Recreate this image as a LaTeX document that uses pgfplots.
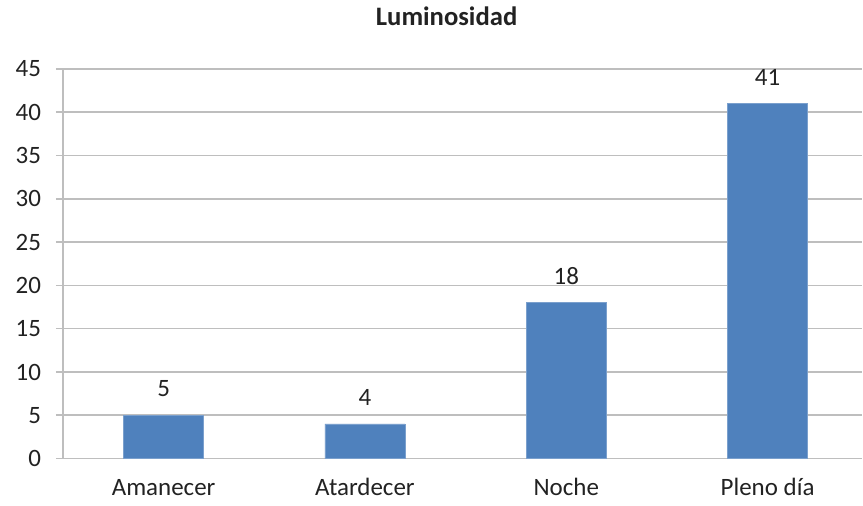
\documentclass[border=0pt]{standalone}
\usepackage{pgfplots}
\pgfplotsset{compat=1.18}
\usepackage{fontspec}
\setmainfont{Carlito}
\definecolor{barc}{HTML}{4F81BD}
\definecolor{gridc}{HTML}{BEBEBE}
\definecolor{txt}{HTML}{222222}

\begin{document}
\begin{tikzpicture}
\begin{axis}[
  name=ax,
  scale only axis,
  width=600pt, height=292.5pt,
  xmin=-0.5, xmax=3.47,
  ymin=0, ymax=45,
  ytick={0,5,...,45},
  xtick={0,1,2,3},
  xticklabels={Amanecer, Atardecer, Noche, Pleno día},
  extra x ticks={-0.5,0.5,1.5,2.5},
  extra x tick labels={},
  extra x tick style={grid=none, major tick length=5.25pt, tick align=outside, tick style={gridc, line width=1.2pt}},
  x tick style={draw=none},
  y tick style={gridc, line width=1.2pt},
  major tick length=5.25pt,
  tick align=outside,
  ymajorgrids, grid style={gridc, line width=1.2pt},
  axis x line*=bottom, axis y line*=left,
  axis line style={gridc, line width=1.2pt, -},
  /pgf/number format/assume math mode=true,
  ticklabel style={font=\fontsize{18.75pt}{20pt}\selectfont, text=txt, inner sep=0pt},
  yticklabel style={anchor=east, xshift=-11pt},
  xticklabel style={anchor=base, yshift=-22.5pt},
  title={\textbf{Luminosidad}},
  title style={at={(0.48,1.092)}, anchor=base, font=\fontsize{20pt}{22pt}\selectfont, text=txt, inner sep=0pt},
  ybar, bar width=60pt,
  nodes near coords,
  every node near coord/.append style={font=\fontsize{18.75pt}{20pt}\selectfont, text=txt, inner sep=0pt, anchor=south, yshift=13.5pt},
  clip=false,
]
\addplot[fill=barc, draw=barc!75!white, line width=0.5pt] coordinates {(0,5) (1,4) (2,18) (3,41)};
\end{axis}
\path (ax.south west) ++(-47.25pt,-35.25pt);
\path (ax.north east) ++(0pt,51.75pt);
\end{tikzpicture}
\end{document}
